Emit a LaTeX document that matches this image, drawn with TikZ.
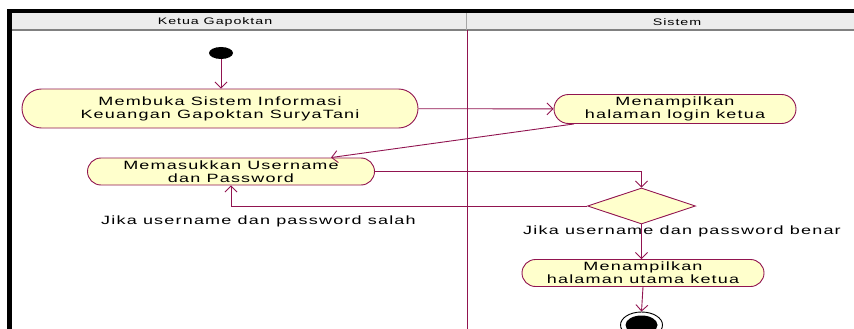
\documentclass[tikz,border=0pt]{standalone}
\usepackage{fontspec}
\setmainfont{Liberation Sans}[FakeStretch=1.5,LetterSpace=10]
\usetikzlibrary{arrows.meta,shapes.misc,shapes.geometric}
\definecolor{roseline}{RGB}{145,20,80}
\definecolor{rosefill}{RGB}{255,255,204}
\definecolor{lanegray}{RGB}{236,236,236}
\begin{document}
\begin{tikzpicture}[x=1pt,y=-1pt,
  flow/.style={draw=roseline, line width=0.9pt, -{Straight Barb[length=6pt,width=12pt]}},
  act/.style={rounded rectangle, draw=roseline, fill=rosefill, line width=0.9pt, align=center, inner sep=0pt, font=\fontsize{12}{13}\selectfont},
  decision/.style={diamond, draw=roseline, fill=rosefill, line width=0.9pt, minimum width=108pt, minimum height=36pt, inner sep=0pt},
  guard/.style={font=\fontsize{12}{13}\selectfont, inner sep=0pt},
  lanehead/.style={font=\fontsize{9.5}{10}\selectfont, inner sep=0pt}]
\useasboundingbox (0,0) rectangle (854,329);
\clip (0,0) rectangle (854,329);
\fill[lanegray] (11.5,13.5) rectangle (854,29);
\draw[gray, line width=1.5pt] (11.5,30) -- (854,30);
\draw[gray!70] (466,13.5) -- (466,30);
\draw[line width=4pt] (7,11.5) -- (854,11.5);
\draw[line width=4.5pt] (9.25,9.5) -- (9.25,329);
\draw[roseline, line width=0.9pt] (467,30) -- (467,329);
\node[lanehead] (ketua) at (215,22) {Ketua Gapoktan};
\node[lanehead] (sistem) at (677,22) {Sistem};
\node[ellipse, fill=black, minimum width=24pt, minimum height=12pt, inner sep=0pt] (start) at (221,53) {};
\node[act, minimum width=396pt, minimum height=39pt] (buka) at (220,108.5) {Membuka Sistem Informasi\\Keuangan Gapoktan SuryaTani};
\node[act, minimum width=242pt, minimum height=29pt] (login) at (675,109) {Menampilkan\\halaman login ketua};
\node[act, minimum width=287pt, minimum height=27pt] (masuk) at (231,171.5) {Memasukkan Username\\dan Password};
\node[decision] (cek) at (641.5,206) {};
\node[guard] (salah) at (258.5,221) {Jika username dan password salah};
\node[guard] (benar) at (682,231.7) {Jika username dan password benar};
\node[act, minimum width=242pt, minimum height=27pt] (utama) at (643,273) {Menampilkan\\halaman utama ketua};
\node[ellipse, draw=black, line width=0.9pt, minimum width=42pt, minimum height=26pt, inner sep=0pt] (selesai) at (641.5,325) {};
\node[ellipse, fill=black, minimum width=32pt, minimum height=19pt, inner sep=0pt] (selesaiin) at (641.5,325) {};
\draw[flow] (start.south) -- (start.south |- buka.north);
\draw[flow] (buka) -- (login);
\draw[flow] ([xshift=-101pt]login.south) -- ([xshift=100pt]masuk.north);
\draw[flow] (masuk.east) -| (cek.north);
\draw[flow] (cek.west) -| (masuk.south);
\draw[flow] (cek.south) -- (cek.south |- utama.north);
\draw[flow] (utama.south) -- (selesai.north);
\end{tikzpicture}
\end{document}
